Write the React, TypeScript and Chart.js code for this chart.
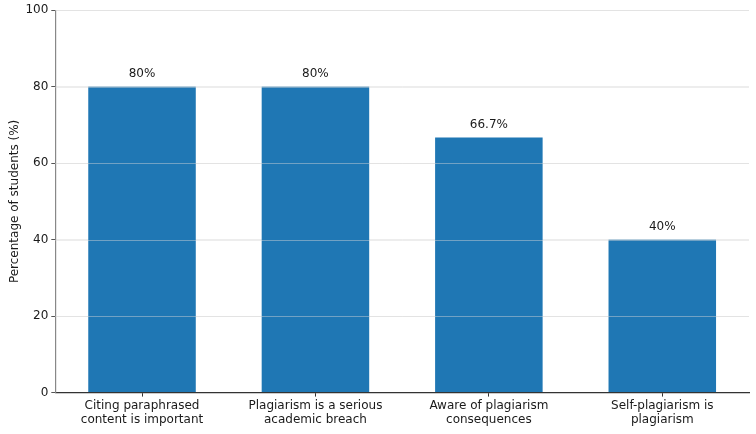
import { useEffect, useRef } from "react";
import { Chart, registerables } from "chart.js";

Chart.register(...registerables);

const categories = [
  ["Citing paraphrased", "content is important"],
  ["Plagiarism is a serious", "academic breach"],
  ["Aware of plagiarism", "consequences"],
  ["Self-plagiarism is", "plagiarism"],
];
const percentages = [80, 80, 66.7, 40];
const valueLabels = ["80%", "80%", "66.7%", "40%"];
const yTicks = [0, 20, 40, 60, 80, 100];

const FONT = "'DejaVu Sans', sans-serif";
const GRID = "rgba(215,215,215,0.45)";

// percentage text above each bar, plus faint grid lines drawn over the bars
const overlay = {
  id: "overlay",
  afterDatasetsDraw(chart: any) {
    const ctx = chart.ctx;
    const area = chart.chartArea;
    const y = chart.scales.y;
    ctx.save();
    ctx.strokeStyle = GRID;
    ctx.lineWidth = 1;
    yTicks.forEach((v) => {
      if (v === 0) return;
      const py = Math.round(y.getPixelForValue(v)) + 0.5;
      ctx.beginPath();
      ctx.moveTo(area.left, py);
      ctx.lineTo(area.right, py);
      ctx.stroke();
    });
    const meta = chart.getDatasetMeta(0);
    ctx.font = `12px ${FONT}`;
    ctx.fillStyle = "#1a1a1a";
    ctx.textAlign = "center";
    ctx.textBaseline = "bottom";
    meta.data.forEach((bar: any, i: number) => {
      ctx.fillText(valueLabels[i], bar.x, bar.y - 7);
    });
    ctx.restore();
  },
};

const App = () => {
  const canvasRef = useRef<HTMLCanvasElement>(null);

  useEffect(() => {
    document.body.style.margin = "0";
    const chart = new Chart(canvasRef.current as HTMLCanvasElement, {
      type: "bar",
      data: {
        labels: categories,
        datasets: [
          {
            data: percentages,
            backgroundColor: "#1f77b4",
            barPercentage: 0.62,
            categoryPercentage: 1,
          },
        ],
      },
      options: {
        animation: false,
        responsive: false,
        layout: { padding: { top: 6, right: 7, left: 4, bottom: 5 } },
        plugins: { legend: { display: false }, tooltip: { enabled: false } },
        scales: {
          x: {
            grid: {
              offset: false,
              drawOnChartArea: false,
              tickColor: "#333",
              tickLength: 4,
            },
            border: { color: "#333", width: 1.2 },
            ticks: {
              color: "#1a1a1a",
              font: { family: FONT, size: 12, lineHeight: 1.1 },
              padding: 3,
              maxRotation: 0,
            },
          },
          y: {
            min: 0,
            max: 100,
            afterBuildTicks: (axis: any) => {
              axis.ticks = yTicks.map((v) => ({ value: v }));
            },
            grid: {
              color: GRID,
              tickColor: "#555",
              tickLength: 4,
            },
            border: { color: "#888", width: 1.2 },
            ticks: {
              color: "#1a1a1a",
              font: { family: FONT, size: 12 },
              padding: 3,
            },
            title: {
              display: true,
              text: "Percentage of students (%)",
              color: "#1a1a1a",
              font: { family: FONT, size: 12 },
              padding: { top: 4, bottom: 0 },
            },
          },
        },
      },
      plugins: [overlay],
    });
    return () => {
      chart.destroy();
    };
  }, []);

  return (
    <div style={{ width: 756, height: 434, background: "#fff" }}>
      <canvas ref={canvasRef} width={756} height={434}></canvas>
    </div>
  );
};

export default App;
